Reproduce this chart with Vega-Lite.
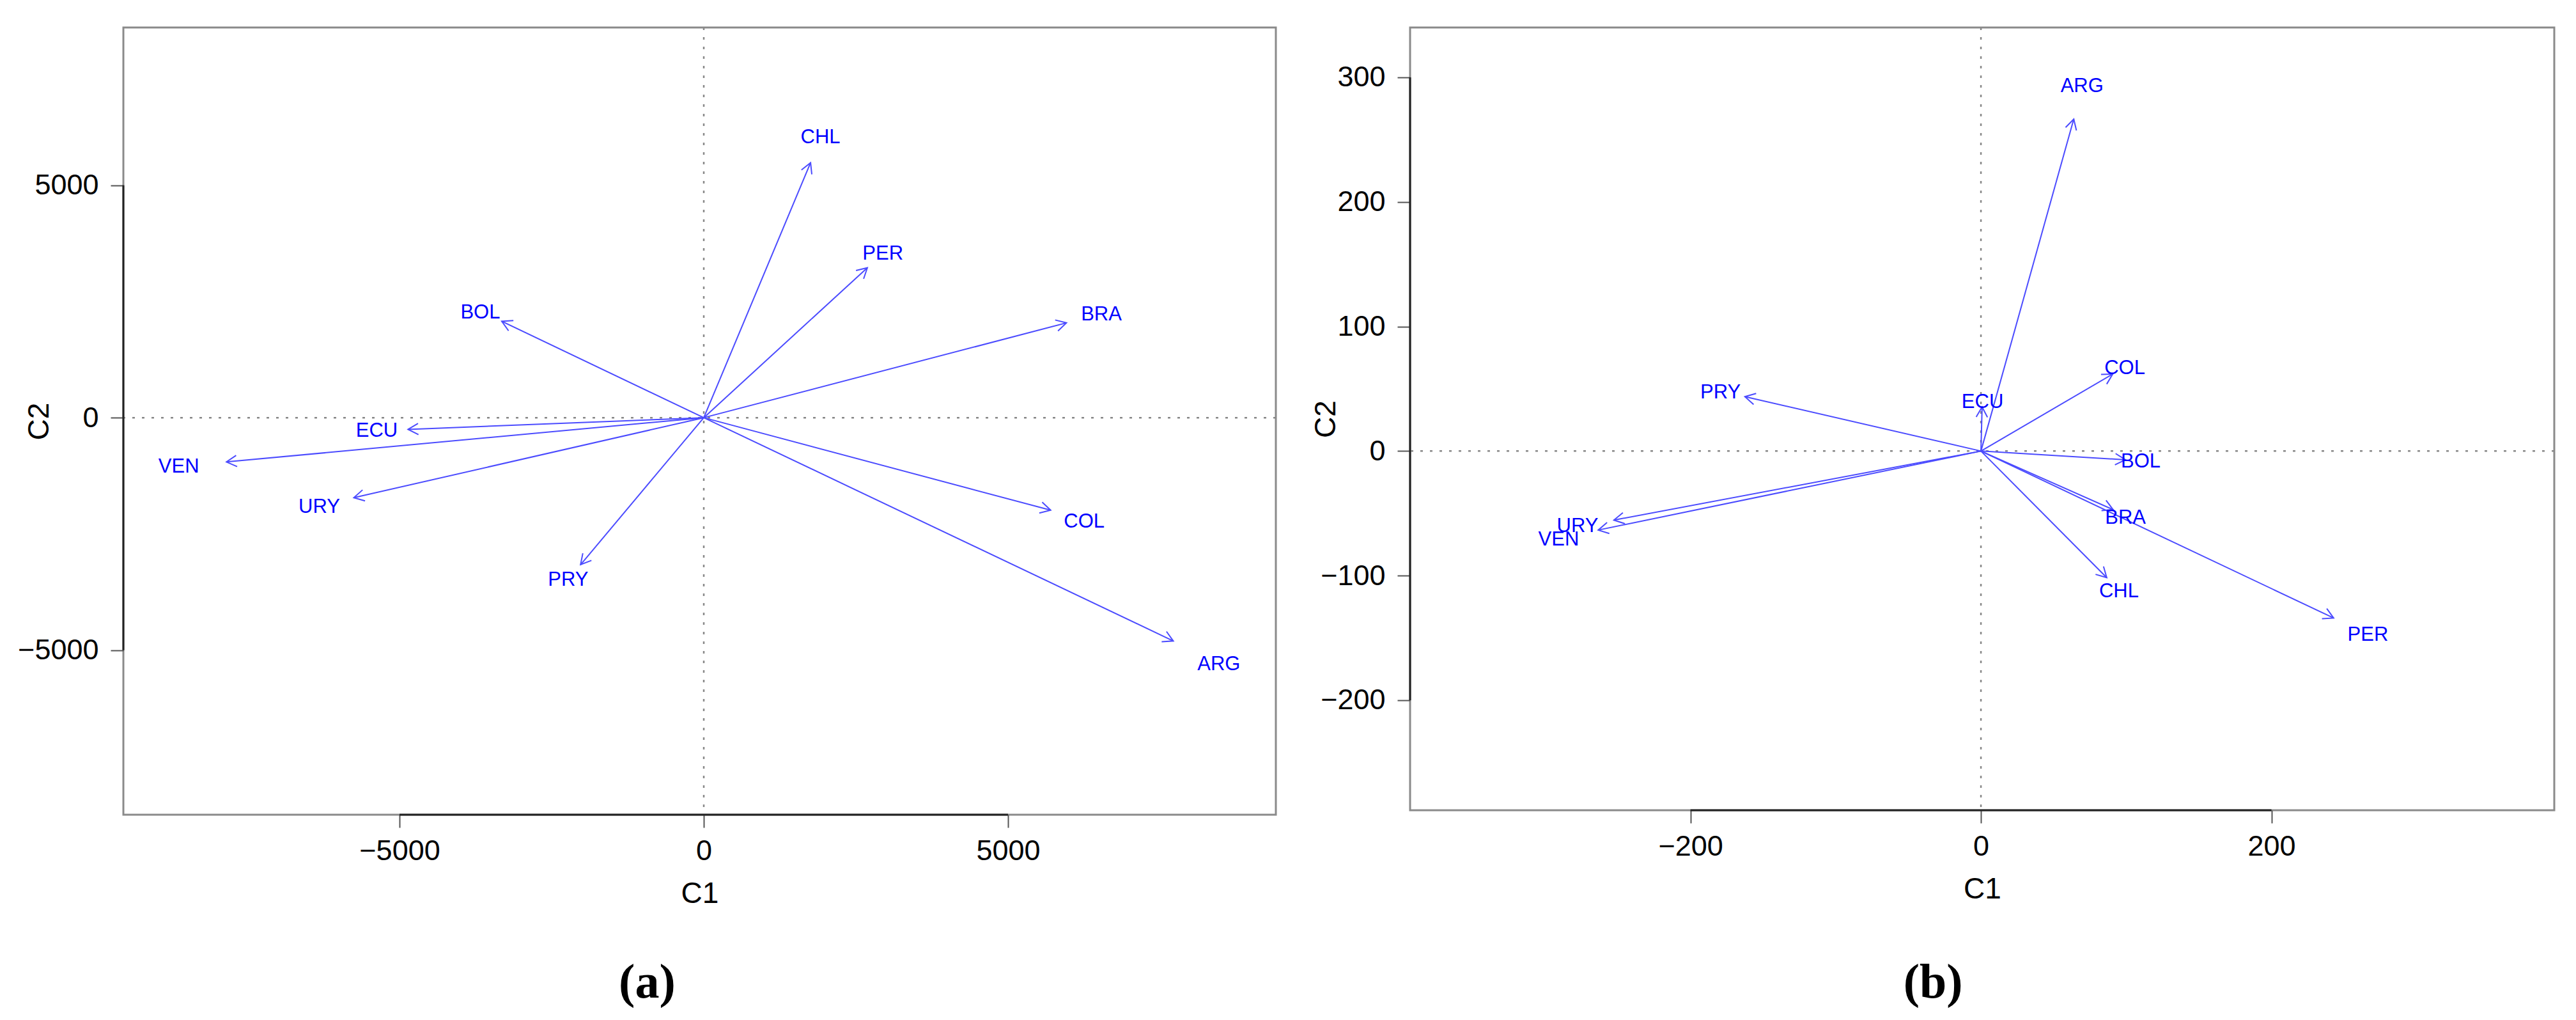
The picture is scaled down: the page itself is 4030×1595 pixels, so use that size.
{
  "$schema": "https://vega.github.io/schema/vega-lite/v6.json",
  "background": "white",
  "padding": {"left": 26, "top": 40, "right": 5, "bottom": 5},
  "spacing": 50,
  "config": {
    "view": {"stroke": "#8a8a8a", "strokeWidth": 3},
    "axis": {"grid": false, "domain": false, "labelFont": "Liberation Sans", "labelFontSize": 45, "labelColor": "#000000", "titleFont": "Liberation Sans", "titleFontSize": 46, "titleFontWeight": "normal", "titleColor": "#000000", "tickSize": 20, "tickWidth": 2, "tickColor": "#555555", "labelPadding": 14, "format": "d"},
    "axisX": {"titlePadding": 22},
    "axisY": {"labelPadding": 19, "minExtent": 108, "maxExtent": 108, "titlePadding": 0}
  },
  "datasets": {
    "pa": [
      {"name": "ARG", "x": 7716, "y": -4803, "lx": 8465, "ly": -5302},
      {"name": "BOL", "x": -3320, "y": 2074, "lx": -3672, "ly": 2252},
      {"name": "BRA", "x": 5960, "y": 2040, "lx": 6534, "ly": 2210},
      {"name": "CHL", "x": 1755, "y": 5484, "lx": 1917, "ly": 6030},
      {"name": "COL", "x": 5700, "y": -1990, "lx": 6251, "ly": -2238},
      {"name": "ECU", "x": -4860, "y": -252, "lx": -5373, "ly": -280},
      {"name": "PER", "x": 2688, "y": 3225, "lx": 2943, "ly": 3525},
      {"name": "PRY", "x": -2025, "y": -3162, "lx": -2228, "ly": -3498},
      {"name": "URY", "x": -5751, "y": -1721, "lx": -6318, "ly": -1917},
      {"name": "VEN", "x": -7844, "y": -951, "lx": -8627, "ly": -1063}
    ],
    "pb": [
      {"name": "ARG", "x": 63.9, "y": 266.5, "lx": 69.6, "ly": 293},
      {"name": "BOL", "x": 99.5, "y": -7, "lx": 110, "ly": -8.4},
      {"name": "BRA", "x": 91, "y": -47, "lx": 99.5, "ly": -53.8},
      {"name": "CHL", "x": 86.6, "y": -101.6, "lx": 95, "ly": -112.8},
      {"name": "COL", "x": 90.7, "y": 61.8, "lx": 99, "ly": 66.3},
      {"name": "ECU", "x": 0.8, "y": 35.5, "lx": 1.1, "ly": 39},
      {"name": "PER", "x": 242.8, "y": -134, "lx": 266.4, "ly": -147.8},
      {"name": "PRY", "x": -162.5, "y": 43.7, "lx": -179.3, "ly": 47},
      {"name": "URY", "x": -252.7, "y": -55.4, "lx": -277.7, "ly": -60.6},
      {"name": "VEN", "x": -263.5, "y": -63.4, "lx": -290.7, "ly": -71}
    ]
  },
  "hconcat": [
    {
      "width": 1803,
      "height": 1231,
      "title": {"text": "(a)", "orient": "bottom", "anchor": "middle", "frame": "bounds", "font": "Liberation Serif", "fontSize": 76, "fontWeight": "bold", "color": "#000000", "offset": 80},
      "layer": [
        {
          "data": {"values": [{"lo": -5000, "hi": 5000, "xe": -9538, "ye": -8540, "z": 0}]},
          "mark": {"type": "rule", "color": "#888888", "strokeWidth": 2.5, "strokeDash": [4, 11]},
          "encoding": {
            "x": {"field": "z", "type": "quantitative", "scale": {"domain": [-9538, 9401], "nice": false, "zero": false}, "axis": {"values": [-5000, 0, 5000], "title": "C1"}}
          }
        },
        {
          "data": {"values": [{"lo": -5000, "hi": 5000, "xe": -9538, "ye": -8540, "z": 0}]},
          "mark": {"type": "rule", "color": "#888888", "strokeWidth": 2.5, "strokeDash": [4, 11]},
          "encoding": {
            "y": {"field": "z", "type": "quantitative", "scale": {"domain": [-8540, 8393], "nice": false, "zero": false}, "axis": {"values": [-5000, 0, 5000], "title": "C2"}}
          }
        },
        {
          "data": {"values": [{"lo": -5000, "hi": 5000, "xe": -9538, "ye": -8540, "z": 0}]},
          "mark": {"type": "rule", "color": "#222222", "strokeWidth": 3},
          "encoding": {
            "x": {"field": "lo", "type": "quantitative", "scale": {"domain": [-9538, 9401], "nice": false, "zero": false}, "axis": {"values": [-5000, 0, 5000], "title": "C1"}},
            "x2": {"field": "hi"},
            "y": {"field": "ye", "type": "quantitative", "scale": {"domain": [-8540, 8393], "nice": false, "zero": false}, "axis": {"values": [-5000, 0, 5000], "title": "C2"}}
          }
        },
        {
          "data": {"values": [{"lo": -5000, "hi": 5000, "xe": -9538, "ye": -8540, "z": 0}]},
          "mark": {"type": "rule", "color": "#222222", "strokeWidth": 3},
          "encoding": {
            "y": {"field": "lo", "type": "quantitative", "scale": {"domain": [-8540, 8393], "nice": false, "zero": false}, "axis": {"values": [-5000, 0, 5000], "title": "C2"}},
            "y2": {"field": "hi"},
            "x": {"field": "xe", "type": "quantitative", "scale": {"domain": [-9538, 9401], "nice": false, "zero": false}, "axis": {"values": [-5000, 0, 5000], "title": "C1"}}
          }
        },
        {
          "data": {"name": "pa"},
          "mark": {"type": "rule", "color": "#4b4bff", "strokeWidth": 2},
          "encoding": {
            "x": {"field": "x", "type": "quantitative", "scale": {"domain": [-9538, 9401], "nice": false, "zero": false}, "axis": {"values": [-5000, 0, 5000], "title": "C1"}},
            "y": {"field": "y", "type": "quantitative", "scale": {"domain": [-8540, 8393], "nice": false, "zero": false}, "axis": {"values": [-5000, 0, 5000], "title": "C2"}},
            "x2": {"datum": 0},
            "y2": {"datum": 0}
          }
        },
        {
          "data": {"name": "pa"},
          "mark": {"type": "point", "shape": "M -0.55 1 L 0 0 L 0.55 1", "size": 1024, "filled": false, "opacity": 1, "stroke": "#4b4bff", "strokeWidth": 2, "angle": {"expr": "atan2(datum.x * 0.0952, datum.y * 0.0727) * 180 / PI"}},
          "encoding": {
            "x": {"field": "x", "type": "quantitative", "scale": {"domain": [-9538, 9401], "nice": false, "zero": false}, "axis": {"values": [-5000, 0, 5000], "title": "C1"}},
            "y": {"field": "y", "type": "quantitative", "scale": {"domain": [-8540, 8393], "nice": false, "zero": false}, "axis": {"values": [-5000, 0, 5000], "title": "C2"}}
          }
        },
        {
          "data": {"name": "pa"},
          "mark": {"type": "text", "font": "Liberation Sans", "fontSize": 31, "color": "#0000ff", "align": "center", "baseline": "middle"},
          "encoding": {
            "x": {"field": "lx", "type": "quantitative", "scale": {"domain": [-9538, 9401], "nice": false, "zero": false}, "axis": {"values": [-5000, 0, 5000], "title": "C1"}},
            "y": {"field": "ly", "type": "quantitative", "scale": {"domain": [-8540, 8393], "nice": false, "zero": false}, "axis": {"values": [-5000, 0, 5000], "title": "C2"}},
            "text": {"field": "name", "type": "nominal"}
          }
        }
      ]
    },
    {
      "width": 1790,
      "height": 1224,
      "title": {"text": "(b)", "orient": "bottom", "anchor": "middle", "frame": "bounds", "font": "Liberation Serif", "fontSize": 76, "fontWeight": "bold", "color": "#000000", "offset": 87},
      "layer": [
        {
          "data": {"values": [{"lo": -200, "hi": 200, "ylo": -200, "yhi": 300, "xe": -393, "ye": -288.3, "z": 0}]},
          "mark": {"type": "rule", "color": "#888888", "strokeWidth": 2.5, "strokeDash": [4, 11]},
          "encoding": {
            "x": {"field": "z", "type": "quantitative", "scale": {"domain": [-393, 394.7], "nice": false, "zero": false}, "axis": {"values": [-200, 0, 200], "title": "C1"}}
          }
        },
        {
          "data": {"values": [{"lo": -200, "hi": 200, "ylo": -200, "yhi": 300, "xe": -393, "ye": -288.3, "z": 0}]},
          "mark": {"type": "rule", "color": "#888888", "strokeWidth": 2.5, "strokeDash": [4, 11]},
          "encoding": {
            "y": {"field": "z", "type": "quantitative", "scale": {"domain": [-288.3, 340], "nice": false, "zero": false}, "axis": {"values": [-200, -100, 0, 100, 200, 300], "title": "C2"}}
          }
        },
        {
          "data": {"values": [{"lo": -200, "hi": 200, "ylo": -200, "yhi": 300, "xe": -393, "ye": -288.3, "z": 0}]},
          "mark": {"type": "rule", "color": "#222222", "strokeWidth": 3},
          "encoding": {
            "x": {"field": "lo", "type": "quantitative", "scale": {"domain": [-393, 394.7], "nice": false, "zero": false}, "axis": {"values": [-200, 0, 200], "title": "C1"}},
            "x2": {"field": "hi"},
            "y": {"field": "ye", "type": "quantitative", "scale": {"domain": [-288.3, 340], "nice": false, "zero": false}, "axis": {"values": [-200, -100, 0, 100, 200, 300], "title": "C2"}}
          }
        },
        {
          "data": {"values": [{"lo": -200, "hi": 200, "ylo": -200, "yhi": 300, "xe": -393, "ye": -288.3, "z": 0}]},
          "mark": {"type": "rule", "color": "#222222", "strokeWidth": 3},
          "encoding": {
            "y": {"field": "ylo", "type": "quantitative", "scale": {"domain": [-288.3, 340], "nice": false, "zero": false}, "axis": {"values": [-200, -100, 0, 100, 200, 300], "title": "C2"}},
            "y2": {"field": "yhi"},
            "x": {"field": "xe", "type": "quantitative", "scale": {"domain": [-393, 394.7], "nice": false, "zero": false}, "axis": {"values": [-200, 0, 200], "title": "C1"}}
          }
        },
        {
          "data": {"name": "pb"},
          "mark": {"type": "rule", "color": "#4b4bff", "strokeWidth": 2},
          "encoding": {
            "x": {"field": "x", "type": "quantitative", "scale": {"domain": [-393, 394.7], "nice": false, "zero": false}, "axis": {"values": [-200, 0, 200], "title": "C1"}},
            "y": {"field": "y", "type": "quantitative", "scale": {"domain": [-288.3, 340], "nice": false, "zero": false}, "axis": {"values": [-200, -100, 0, 100, 200, 300], "title": "C2"}},
            "x2": {"datum": 0},
            "y2": {"datum": 0}
          }
        },
        {
          "data": {"name": "pb"},
          "mark": {"type": "point", "shape": "M -0.55 1 L 0 0 L 0.55 1", "size": 1024, "filled": false, "opacity": 1, "stroke": "#4b4bff", "strokeWidth": 2, "angle": {"expr": "atan2(datum.x * 2.2725, datum.y * 1.948) * 180 / PI"}},
          "encoding": {
            "x": {"field": "x", "type": "quantitative", "scale": {"domain": [-393, 394.7], "nice": false, "zero": false}, "axis": {"values": [-200, 0, 200], "title": "C1"}},
            "y": {"field": "y", "type": "quantitative", "scale": {"domain": [-288.3, 340], "nice": false, "zero": false}, "axis": {"values": [-200, -100, 0, 100, 200, 300], "title": "C2"}}
          }
        },
        {
          "data": {"name": "pb"},
          "mark": {"type": "text", "font": "Liberation Sans", "fontSize": 31, "color": "#0000ff", "align": "center", "baseline": "middle"},
          "encoding": {
            "x": {"field": "lx", "type": "quantitative", "scale": {"domain": [-393, 394.7], "nice": false, "zero": false}, "axis": {"values": [-200, 0, 200], "title": "C1"}},
            "y": {"field": "ly", "type": "quantitative", "scale": {"domain": [-288.3, 340], "nice": false, "zero": false}, "axis": {"values": [-200, -100, 0, 100, 200, 300], "title": "C2"}},
            "text": {"field": "name", "type": "nominal"}
          }
        }
      ]
    }
  ]
}
